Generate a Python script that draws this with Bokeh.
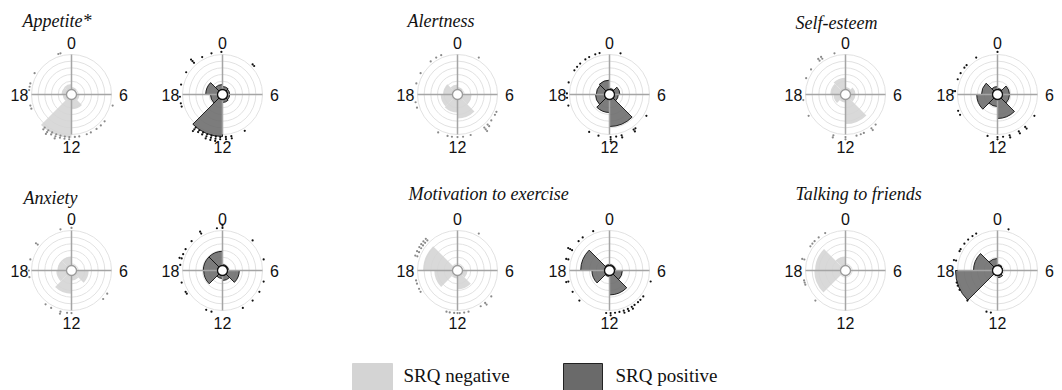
import numpy as np
from bokeh.plotting import figure
from bokeh.models import Range1d, ColumnDataSource
from bokeh.core.properties import value
from bokeh.embed import file_html
from bokeh.resources import INLINE

# ---------------- data ----------------
BIN_START_HOURS = [0, 3, 6, 9, 12, 15, 18, 21]   # 3-hour bins, clockwise from top
HOUR_LABELS = ["0", "6", "12", "18"]
HOUR_LABEL_POS = [0, 6, 12, 18]
TITLES = ["Appetite*", "Alertness", "Self-esteem",
          "Anxiety", "Motivation to exercise", "Talking to friends"]
LEGEND_LABELS = ["SRQ negative", "SRQ positive"]

# bin heights, as a fraction of the outer ring
appetite_neg = [0.18, 0.12, 0.20, 0.37, 1.08, 0.22, 0.25, 0.26]
appetite_pos = [0.20, 0.18, 0.18, 0.20, 1.05, 0.30, 0.42, 0.25]
alertness_neg = [0.18, 0.15, 0.35, 0.60, 0.45, 0.42, 0.36, 0.25]
alertness_pos = [0.15, 0.26, 0.22, 0.80, 0.45, 0.35, 0.33, 0.36]
selfesteem_neg = [0.18, 0.25, 0.25, 0.74, 0.20, 0.30, 0.38, 0.42]
selfesteem_pos = [0.15, 0.30, 0.30, 0.60, 0.30, 0.52, 0.40, 0.20]
anxiety_neg = [0.15, 0.12, 0.43, 0.25, 0.58, 0.38, 0.35, 0.35]
anxiety_pos = [0.15, 0.15, 0.42, 0.25, 0.20, 0.47, 0.48, 0.48]
motivation_neg = [0.12, 0.12, 0.25, 0.47, 0.20, 0.58, 0.86, 0.15]
motivation_pos = [0.15, 0.15, 0.32, 0.61, 0.15, 0.44, 0.72, 0.15]
talking_neg = [0.12, 0.10, 0.10, 0.10, 0.15, 0.78, 0.76, 0.35]
talking_pos = [0.15, 0.12, 0.12, 0.18, 0.12, 1.05, 0.60, 0.30]

# individual observations (clock hour)
appetite_neg_dots = [23.0, 22.8, 20.0, 19.0, 18.7, 18.4, 17.0, 16.7, 12.2, 12.2, 12.6, 12.6,
                     13.0, 13.0, 13.4, 13.4, 13.4, 13.8, 13.8, 14.2, 14.2, 14.2, 14.6, 14.6,
                     11.7, 11.3, 10.6, 10.2, 9.6, 9.1, 8.6, 7.0]
appetite_pos_dots = [23.9, 23.0, 22.1, 21.2, 21.2, 21.2, 20.1, 18.9, 17.8, 17.2, 16.9, 3.0, 3.2,
                     12.2, 12.2, 12.6, 12.6, 12.6, 13.0, 13.0, 13.0, 13.4, 13.4, 13.4, 13.8, 13.8,
                     14.2, 14.2, 14.6, 14.6, 14.6, 11.7, 11.7, 11.2, 11.2, 9.9]
alertness_neg_dots = [2.0, 22.5, 22.0, 21.4, 20.0, 19.0, 17.3, 16.8, 13.8, 12.9, 12.5, 12.0,
                      11.5, 10.8, 9.4, 9.4, 9.4, 9.0, 9.0, 8.5, 7.9, 7.6]
alertness_pos_dots = [23.1, 22.7, 22.1, 21.7, 21.1, 20.7, 20.3, 19.1, 18.1, 17.7, 17.0, 1.0,
                      8.0, 9.5, 9.7, 9.7, 10.9, 10.9, 11.4, 11.9, 11.9, 11.9, 13.0, 13.9]
selfesteem_neg_dots = [23.0, 21.8, 21.8, 21.5, 21.5, 20.4, 19.5, 17.5, 16.0, 13.1, 13.1, 12.0,
                       12.0, 11.0, 10.6, 10.3, 9.5, 9.5, 9.0]
selfesteem_pos_dots = [0.0, 22.0, 20.9, 20.6, 20.0, 19.4, 18.3, 18.3, 16.5, 16.1, 8.0, 9.3, 9.3,
                       10.0, 10.0, 10.9, 10.9, 11.5, 12.0, 12.0, 12.9]
anxiety_neg_dots = [0.0, 23.0, 20.5, 20.5, 19.0, 18.0, 17.4, 8.2, 8.8, 14.5, 13.9, 13.0, 13.0,
                    12.4, 12.0]
anxiety_pos_dots = [0.0, 0.0, 23.5, 22.0, 22.0, 20.9, 20.0, 19.5, 19.1, 19.1, 18.5, 16.9, 16.0,
                    15.8, 3.0, 5.0, 7.0, 8.0, 9.0, 10.1, 13.5, 13.0]
motivation_neg_dots = [2.0, 21.0, 21.0, 20.7, 20.7, 20.4, 20.4, 20.1, 20.1, 19.7, 19.7, 19.3,
                       19.3, 17.1, 16.8, 16.3, 16.0, 13.0, 12.7, 12.3, 11.8, 12.0, 11.4, 11.0,
                       9.8, 9.3, 9.3, 8.5]
motivation_pos_dots = [22.5, 21.4, 20.9, 19.9, 19.9, 19.9, 19.0, 19.0, 17.0, 17.0, 16.0, 15.0,
                       7.0, 8.5, 8.9, 9.2, 9.6, 9.9, 9.9, 10.3, 10.3, 10.7, 10.7, 11.1, 11.5,
                       11.9, 11.9, 12.3]
talking_neg_dots = [22.1, 21.4, 20.9, 20.6, 20.3, 19.0, 19.0, 17.1, 16.9, 16.7, 15.0]
talking_pos_dots = [1.0, 22.0, 21.6, 21.1, 20.6, 20.0, 19.8, 18.9, 18.9, 16.9, 16.6, 16.2, 15.0,
                    13.0, 12.6]

NEG_VALUES = [appetite_neg, alertness_neg, selfesteem_neg, anxiety_neg, motivation_neg, talking_neg]
POS_VALUES = [appetite_pos, alertness_pos, selfesteem_pos, anxiety_pos, motivation_pos, talking_pos]
NEG_DOTS = [appetite_neg_dots, alertness_neg_dots, selfesteem_neg_dots,
            anxiety_neg_dots, motivation_neg_dots, talking_neg_dots]
POS_DOTS = [appetite_pos_dots, alertness_pos_dots, selfesteem_pos_dots,
            anxiety_pos_dots, motivation_pos_dots, talking_pos_dots]

# ---------------- layout / style ----------------
W, H = 1062, 390
R = 40.0           # outer ring radius (px)
HOLE = 5.0
N_RINGS = 6
LABEL_OFF = 52
NEG_X = [71, 457, 845]
POS_X = [222, 609, 997]
ROW_Y = [94, 270]          # page-y of the polar centers
TITLE_POS = [(22, 20), (407, 20), (795, 22), (23, 197), (408, 193), (795, 193)]

NEG_FILL, NEG_LINE, NEG_DOT = "#d4d4d4", "#c4c4c4", "#8a8a8a"
POS_FILL, POS_LINE, POS_DOT = "#6a6a6a", "#111111", "#111111"


def Y(page_y):
    return H - page_y


p = figure(width=W, height=H, x_range=Range1d(0, W), y_range=Range1d(0, H),
           output_backend="svg", toolbar_location=None, min_border=0)
p.axis.visible = False
p.grid.visible = False
p.outline_line_color = None
p.background_fill_color = "white"

SANS = value("Liberation Sans")
SERIF = value("Liberation Serif")


def draw_polar(cx, cy, vals, dots, fill, line, dotc, outline_w):
    # rings
    p.circle(x=[cx] * N_RINGS, y=[cy] * N_RINGS,
             radius=[R * (k + 1) / N_RINGS for k in range(N_RINGS)],
             fill_color=None, line_color="#e2e2e2", line_width=1)
    # wedges
    h0 = np.array(BIN_START_HOURS, dtype=float)
    src = ColumnDataSource(dict(
        x=[cx] * len(vals), y=[cy] * len(vals),
        r=[v * R for v in vals],
        start=list(np.pi / 2 - (h0 + 3) * np.pi / 12),
        end=list(np.pi / 2 - h0 * np.pi / 12)))
    p.annular_wedge(x="x", y="y", inner_radius=HOLE, outer_radius="r",
                    start_angle="start", end_angle="end", direction="anticlock",
                    source=src, fill_color=fill, fill_alpha=0.88,
                    line_color=line, line_width=outline_w)
    # cross axes
    p.segment(x0=[cx - R, cx], y0=[cy, cy - R], x1=[cx + R, cx], y1=[cy, cy + R],
              line_color="#a5a5a5", line_width=1.5)
    # hole
    p.circle(x=[cx], y=[cy], radius=HOLE, fill_color="white",
             line_color=line if outline_w > 0.5 else "#9a9a9a", line_width=1.3)
    # dots (stacked when tied)
    counts = {}
    xs, ys = [], []
    for h in dots:
        key = round(h % 24, 1)
        k = counts.get(key, 0)
        counts[key] = k + 1
        rr = R + 2.6 + 2.2 * k
        th = h * np.pi / 12
        xs.append(cx + rr * np.sin(th))
        ys.append(cy + rr * np.cos(th))
    p.scatter(x=xs, y=ys, size=2.2, fill_color=dotc, line_color=None)
    # hour labels
    lx, ly = [], []
    for hh in HOUR_LABEL_POS:
        th = hh * np.pi / 12
        lx.append(cx + LABEL_OFF * np.sin(th))
        ly.append(cy + LABEL_OFF * np.cos(th))
    p.text(x=lx, y=ly, text=HOUR_LABELS, text_font=SANS, text_font_size="16px",
           text_align="center", text_baseline="middle", text_color="#111111")


for i in range(6):
    row, col = divmod(i, 3)
    cy = Y(ROW_Y[row])
    draw_polar(NEG_X[col], cy, NEG_VALUES[i], NEG_DOTS[i], NEG_FILL, NEG_LINE, NEG_DOT, 0.0)
    draw_polar(POS_X[col], cy, POS_VALUES[i], POS_DOTS[i], POS_FILL, POS_LINE, POS_DOT, 0.9)
    tx, ty = TITLE_POS[i]
    p.text(x=[tx], y=[Y(ty)], text=[TITLES[i]], text_font=SERIF, text_font_size="18px",
           text_font_style="italic", text_align="left", text_baseline="middle",
           text_color="#111111")

# legend
p.quad(left=[352, 563], right=[392, 602], top=[Y(363), Y(363)], bottom=[Y(395), Y(395)],
       fill_color=[NEG_FILL, POS_FILL], line_color=[NEG_FILL, "#222222"], line_width=1)
p.text(x=[403, 615], y=[Y(375), Y(375)], text=LEGEND_LABELS, text_font=SERIF,
       text_font_size="19px", text_align="left", text_baseline="middle", text_color="#111111")

open("out.html", "w").write(file_html(p, INLINE))
